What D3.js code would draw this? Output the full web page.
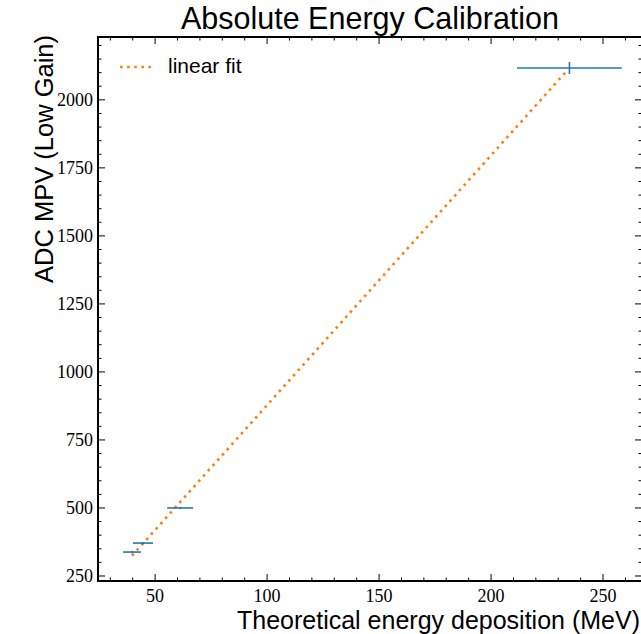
<!DOCTYPE html>
<html>
<head>
<meta charset="utf-8">
<script src="https://cdn.jsdelivr.net/npm/d3@7"></script>
<style>
  body { margin: 0; background: #fff; }
  svg { display: block; }
</style>
</head>
<body>
<div id="chart"></div>
<script>
// Data
const energy = [39.7, 44.6, 61.2, 235.0];        // MeV
const energyErr = [4.0, 4.5, 5.8, 23.4];
const adc = [338, 371, 500, 2117];
const adcErr = [4, 4, 4, 22];
const fitSlope = 9.18;
const fitIntercept = -40;
const xTicks = [50, 100, 150, 200, 250];
const yTicks = [250, 500, 750, 1000, 1250, 1500, 1750, 2000];

const W = 641, H = 634;
const margin = { left: 98, top: 37, right: 642, bottom: 581 };

const svg = d3.select("#chart").append("svg")
    .attr("width", W)
    .attr("height", H);

const x = d3.scaleLinear().domain([24.5, 267.4]).range([margin.left, margin.right]);
const y = d3.scaleLinear().domain([231.6, 2231]).range([margin.bottom, margin.top]);

const tickFont = "'Liberation Serif', 'Times New Roman', serif";
const sansFont = "'Liberation Sans', Arial, Helvetica, sans-serif";

// Minor ticks
const xMinor = d3.range(30, 268, 10).filter(v => v % 50 !== 0);
const yMinor = d3.range(250, 2231, 50).filter(v => v % 250 !== 0);

const ticks = svg.append("g").attr("stroke", "#000").attr("stroke-width", 1);

function vTicks(vals, len) {
    vals.forEach(v => {
        ticks.append("line").attr("x1", x(v)).attr("x2", x(v))
            .attr("y1", margin.bottom).attr("y2", margin.bottom - len);
        ticks.append("line").attr("x1", x(v)).attr("x2", x(v))
            .attr("y1", margin.top).attr("y2", margin.top + len);
    });
}
function hTicks(vals, len) {
    vals.forEach(v => {
        ticks.append("line").attr("y1", y(v)).attr("y2", y(v))
            .attr("x1", margin.left).attr("x2", margin.left + len);
        ticks.append("line").attr("y1", y(v)).attr("y2", y(v))
            .attr("x1", margin.right).attr("x2", margin.right - len);
    });
}
vTicks(xTicks, 7);
vTicks(xMinor, 3.5);
hTicks(yTicks, 7);
hTicks(yMinor, 3.5);

// Tick labels
svg.append("g").selectAll("text")
    .data(xTicks).enter().append("text")
    .attr("x", d => x(d))
    .attr("y", margin.bottom + 21)
    .attr("text-anchor", "middle")
    .attr("font-family", tickFont)
    .attr("font-size", 18)
    .text(d => d);

svg.append("g").selectAll("text")
    .data(yTicks).enter().append("text")
    .attr("x", margin.left - 5)
    .attr("y", d => y(d) + 6)
    .attr("text-anchor", "end")
    .attr("font-family", tickFont)
    .attr("font-size", 18)
    .text(d => d);

// Linear fit
const fitX = [d3.min(energy), 233.5];
svg.append("line")
    .attr("x1", x(fitX[0])).attr("y1", y(fitSlope * fitX[0] + fitIntercept))
    .attr("x2", x(fitX[1])).attr("y2", y(fitSlope * fitX[1] + fitIntercept))
    .attr("stroke", "#ff7f0e")
    .attr("stroke-width", 2.6)
    .attr("stroke-dasharray", "2.6,4.5");

// Error bars
const eb = svg.append("g").attr("stroke", "#1f77b4").attr("stroke-width", 1.6);
energy.forEach((e, i) => {
    eb.append("line")
        .attr("x1", x(e - energyErr[i])).attr("x2", x(e + energyErr[i]))
        .attr("y1", y(adc[i])).attr("y2", y(adc[i]));
    eb.append("line")
        .attr("x1", x(e)).attr("x2", x(e))
        .attr("y1", y(adc[i] - adcErr[i])).attr("y2", y(adc[i] + adcErr[i]));
});

// Frame
svg.append("rect")
    .attr("x", margin.left).attr("y", margin.top)
    .attr("width", margin.right - margin.left)
    .attr("height", margin.bottom - margin.top)
    .attr("fill", "none")
    .attr("stroke", "#000")
    .attr("stroke-width", 2);

// Legend
svg.append("line")
    .attr("x1", 120).attr("x2", 153).attr("y1", 67).attr("y2", 67)
    .attr("stroke", "#ff7f0e")
    .attr("stroke-width", 2.6)
    .attr("stroke-dasharray", "2.6,4.5");
svg.append("text")
    .attr("x", 168).attr("y", 73)
    .attr("font-family", sansFont)
    .attr("font-size", 21)
    .text("linear fit");

// Title and axis labels
svg.append("text")
    .attr("x", (margin.left + margin.right) / 2)
    .attr("y", 29)
    .attr("text-anchor", "middle")
    .attr("font-family", sansFont)
    .attr("font-size", 30.5)
    .text("Absolute Energy Calibration");

svg.append("text")
    .attr("x", 237)
    .attr("y", 629)
    .attr("font-family", sansFont)
    .attr("font-size", 25)
    .text("Theoretical energy deposition (MeV)");

svg.append("text")
    .attr("transform", "translate(53,35) rotate(-90)")
    .attr("text-anchor", "end")
    .attr("font-family", sansFont)
    .attr("font-size", 25.5)
    .text("ADC MPV (Low Gain)");
</script>
</body>
</html>
